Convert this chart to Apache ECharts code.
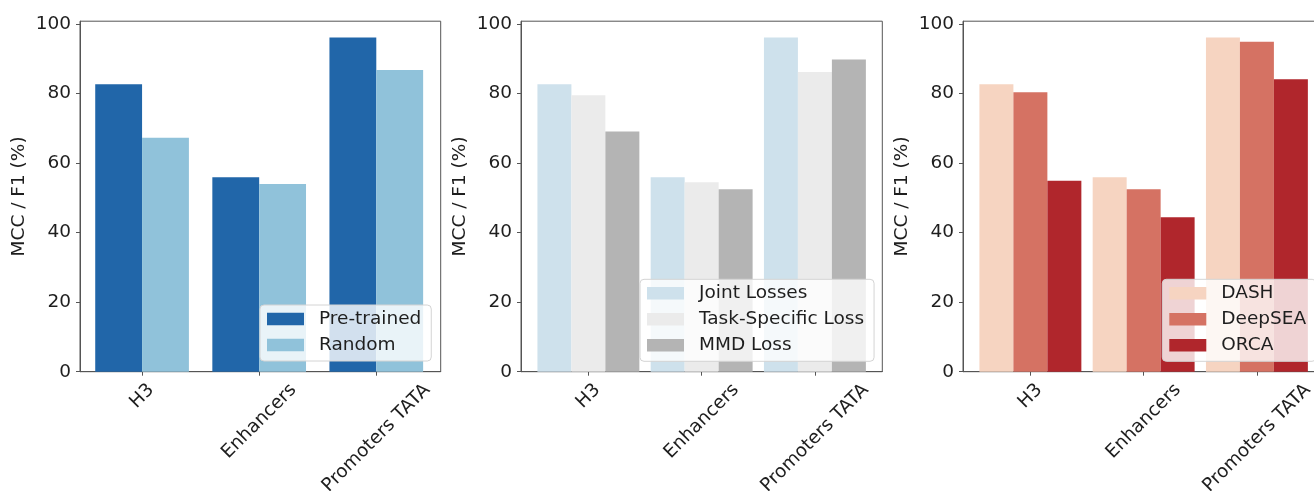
<!DOCTYPE html>
<html>
<head>
<meta charset="utf-8">
<script src="https://cdn.jsdelivr.net/npm/echarts@6/dist/echarts.min.js"></script>
<style>
  html, body { margin: 0; padding: 0; background: #fff; }
  #chart { width: 1314px; height: 491px; }
</style>
</head>
<body>
<div id="chart"></div>
<script>
// data
const categories = ['H3', 'Enhancers', 'Promoters TATA'];
const yTicks = [0, 20, 40, 60, 80, 100];

const pretrained = [82.7, 55.9, 96.1];
const random = [67.3, 54.0, 86.8];

const jointLosses = [82.7, 55.9, 96.1];
const taskSpecificLoss = [79.5, 54.5, 86.2];
const mmdLoss = [69.1, 52.5, 89.8];

const dash = [82.7, 55.9, 96.1];
const deepSEA = [80.4, 52.5, 94.9];
const orca = [54.9, 44.4, 84.1];

// layout of the three panels
const FONT = 'DejaVu Sans';
const FS = 18.5;
const TEXT = '#1e1e1e';
const LINE = '#555';
const gridTop = 21.2;
const gridHeight = 350.5;
const yMax = 100.8;

const panels = [
  {
    left: 80, width: 360.7, xMin: -0.53, xMax: 2.55, barUnit: 0.4,
    legendLeft: 260, legendTop: 305,
    series: [
      { name: 'Pre-trained', data: pretrained, color: '#2166a9' },
      { name: 'Random', data: random, color: '#90c2da' }
    ]
  },
  {
    left: 521, width: 361.3, xMin: -0.595, xMax: 2.595, barUnit: 0.3,
    legendLeft: 640, legendTop: 279.3,
    series: [
      { name: 'Joint Losses', data: jointLosses, color: '#cee1ec' },
      { name: 'Task-Specific Loss', data: taskSpecificLoss, color: '#ebebeb' },
      { name: 'MMD Loss', data: mmdLoss, color: '#b4b4b4' }
    ]
  },
  {
    left: 963, width: 361.3, xMin: -0.595, xMax: 2.595, barUnit: 0.3,
    legendLeft: 1162.3, legendTop: 279.3,
    series: [
      { name: 'DASH', data: dash, color: '#f6d4c1' },
      { name: 'DeepSEA', data: deepSEA, color: '#d57263' },
      { name: 'ORCA', data: orca, color: '#b0262c' }
    ]
  }
];

// rotated tick labels: matplotlib centres the rotated box on the tick,
// so each label needs its own distance from the axis line
const measureCtx = document.createElement('canvas').getContext('2d');
measureCtx.font = FS + 'px "' + FONT + '"';
const labelMargins = categories.map(c => {
  const w = measureCtx.measureText(c).width;
  return 8 + (w + 21) / (2 * Math.SQRT2);
});

const grid = [];
const xAxis = [];
const yAxis = [];
const legend = [];
const series = [];

panels.forEach((p, pi) => {
  grid.push({
    left: p.left, top: gridTop, width: p.width, height: gridHeight,
    show: true, borderColor: LINE, borderWidth: 1,
    outerBoundsMode: 'none', containLabel: false
  });

  // main x axis: ticks only
  const mainIndex = xAxis.length;
  xAxis.push({
    type: 'value', gridIndex: pi, min: p.xMin, max: p.xMax, position: 'bottom',
    axisLine: { show: true, onZero: false, lineStyle: { color: LINE, width: 1 } },
    axisTick: { show: true, length: 4, customValues: [0, 1, 2], lineStyle: { color: LINE } },
    axisLabel: { show: false },
    splitLine: { show: false }
  });
  // one label axis per category
  categories.forEach((c, ci) => {
    xAxis.push({
      type: 'value', gridIndex: pi, min: p.xMin, max: p.xMax, position: 'bottom',
      axisLine: { show: false, onZero: false }, axisTick: { show: false }, splitLine: { show: false },
      axisLabel: {
        customValues: [ci],
        formatter: () => c,
        rotate: 45, align: 'center', verticalAlign: 'middle',
        margin: labelMargins[ci],
        fontSize: FS, fontFamily: FONT, color: TEXT
      }
    });
  });

  yAxis.push({
    type: 'value', gridIndex: pi, min: 0, max: yMax, position: 'left',
    name: 'MCC / F1 (%)', nameLocation: 'middle', nameGap: 51,
    nameTextStyle: { fontSize: FS, fontFamily: FONT, color: TEXT },
    axisLine: { show: true, onZero: false, lineStyle: { color: LINE, width: 1 } },
    axisTick: { show: true, length: 4, customValues: yTicks, lineStyle: { color: LINE } },
    axisLabel: {
      customValues: yTicks, margin: 9, padding: [3, 0, 0, 0],
      fontSize: FS, fontFamily: FONT, color: TEXT
    },
    splitLine: { show: false }
  });

  const barPx = p.barUnit * p.width / (p.xMax - p.xMin);
  p.series.forEach(s => {
    series.push({
      name: s.name, type: 'bar',
      xAxisIndex: mainIndex, yAxisIndex: pi,
      data: s.data.map((v, i) => [i, v]),
      barWidth: barPx, barGap: '0%',
      itemStyle: { color: s.color },
      emphasis: { disabled: true },
      animation: false
    });
  });

  legend.push({
    data: p.series.map(s => s.name),
    orient: 'vertical', left: p.legendLeft, top: p.legendTop,
    icon: 'rect', itemWidth: 37, itemHeight: 12.6, itemGap: 6,
    padding: [4, 10, 6, 7],
    backgroundColor: 'rgba(255,255,255,0.8)',
    borderColor: '#d4d4d4', borderWidth: 1, borderRadius: 4,
    selectedMode: false,
    textStyle: { fontSize: FS, fontFamily: FONT, color: TEXT, lineHeight: 20, padding: [0, 0, 0, 10] }
  });
});

const chart = echarts.init(document.getElementById('chart'), null, { renderer: 'canvas' });
chart.setOption({
  animation: false,
  backgroundColor: '#fff',
  textStyle: { fontFamily: FONT },
  grid, xAxis, yAxis, legend, series
});
</script>
</body>
</html>
